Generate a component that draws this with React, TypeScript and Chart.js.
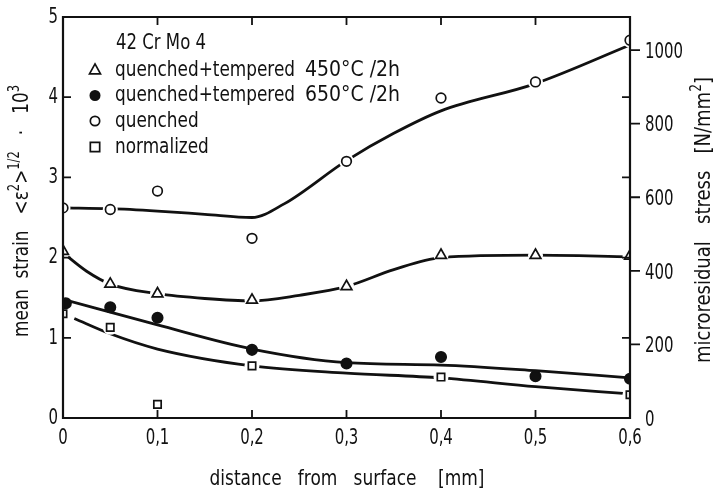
import React, { useEffect, useRef } from "react";
import { Chart, registerables } from "chart.js";

Chart.register(...registerables);

// ---- data ----
const X_TICKS = [0, 0.1, 0.2, 0.3, 0.4, 0.5, 0.6];
const Y_TICKS = [0, 1, 2, 3, 4, 5];
const Y2_TICKS = [0, 200, 400, 600, 800, 1000];

const Q450_X = [0, 0.05, 0.1, 0.2, 0.3, 0.4, 0.5, 0.6];
const Q450_Y = [2.08, 1.67, 1.55, 1.47, 1.64, 2.03, 2.03, 2.02];
const Q450_FIT_X = [0, 0.025, 0.05, 0.1, 0.15, 0.2, 0.25, 0.3, 0.35, 0.4, 0.5, 0.6];
const Q450_FIT_Y = [2.06, 1.83, 1.67, 1.55, 1.49, 1.46, 1.53, 1.64, 1.85, 2.0, 2.03, 2.01];

const Q650_X = [0.003, 0.05, 0.1, 0.2, 0.3, 0.4, 0.5, 0.6];
const Q650_Y = [1.43, 1.38, 1.25, 0.85, 0.68, 0.76, 0.52, 0.49];
const Q650_FIT_X = [0, 0.1, 0.2, 0.3, 0.4, 0.5, 0.6];
const Q650_FIT_Y = [1.48, 1.16, 0.86, 0.69, 0.66, 0.59, 0.5];

const QUENCHED_X = [0, 0.05, 0.1, 0.2, 0.3, 0.4, 0.5, 0.6];
const QUENCHED_Y = [2.62, 2.6, 2.83, 2.24, 3.2, 3.99, 4.19, 4.71];
const QUENCHED_FIT_X = [0, 0.05, 0.1, 0.15, 0.2, 0.234, 0.3, 0.35, 0.4, 0.5, 0.6];
const QUENCHED_FIT_Y = [2.62, 2.61, 2.58, 2.54, 2.5, 2.67, 3.21, 3.55, 3.83, 4.17, 4.65];

const NORM_X = [0, 0.05, 0.1, 0.2, 0.4, 0.6];
const NORM_Y = [1.3, 1.13, 0.17, 0.65, 0.51, 0.29];
const NORM_FIT_X = [0.012, 0.05, 0.1, 0.2, 0.3, 0.4, 0.5, 0.6];
const NORM_FIT_Y = [1.24, 1.05, 0.86, 0.65, 0.56, 0.5, 0.39, 0.3];

const ALLOY = "42 Cr Mo 4";
const LEGEND_NAMES = ["quenched+tempered", "quenched+tempered", "quenched", "normalized"];
const LEGEND_TREAT = ["450°C /2h", "650°C /2h", "", ""];
const X_TITLE = "distance   from   surface    [mm]";

const FONT = "'Liberation Sans Narrow', 'DejaVu Sans Condensed', 'Arial Narrow', 'DejaVu Sans', sans-serif";
const INK = "#111";

const pts = (xs: number[], ys: number[]) => xs.map((x, i) => ({ x, y: ys[i] }));
const fmt = (v: number) => (v === 0 ? "0" : v.toFixed(1).replace(".", ","));

function drawMarker(ctx: CanvasRenderingContext2D, kind: string, x: number, y: number, r: number) {
  ctx.save();
  ctx.lineWidth = 1.7;
  ctx.strokeStyle = INK;
  ctx.fillStyle = kind === "filled" ? INK : "#fff";
  ctx.beginPath();
  if (kind === "triangle") {
    ctx.moveTo(x, y - r * 1.1);
    ctx.lineTo(x + r, y + r * 0.7);
    ctx.lineTo(x - r, y + r * 0.7);
    ctx.closePath();
  } else if (kind === "square") {
    ctx.rect(x - r * 0.85, y - r * 0.85, r * 1.7, r * 1.7);
  } else {
    ctx.arc(x, y, r * 0.85, 0, Math.PI * 2);
  }
  ctx.fill();
  ctx.stroke();
  ctx.restore();
}

function scaleFor(ctx: CanvasRenderingContext2D, sample: string, size: number, target: number) {
  ctx.save();
  ctx.font = `${size}px ${FONT}`;
  const w = ctx.measureText(sample).width;
  ctx.restore();
  return w > 0 ? target / w : 1;
}

function drawText(
  ctx: CanvasRenderingContext2D,
  text: string,
  x: number,
  y: number,
  size: number,
  align: CanvasTextAlign,
  sx: number
) {
  ctx.save();
  ctx.font = `${size}px ${FONT}`;
  ctx.fillStyle = INK;
  ctx.translate(x, y);
  ctx.scale(sx, 1);
  ctx.textAlign = align;
  ctx.textBaseline = "middle";
  ctx.fillText(text, 0, 0);
  ctx.restore();
}

type Part = { t: string; sup?: boolean };
function drawRich(ctx: CanvasRenderingContext2D, parts: Part[], cx: number, cy: number, size: number, targetLen: number) {
  ctx.save();
  ctx.translate(cx, cy);
  ctx.rotate(-Math.PI / 2);
  const supSize = Math.round(size * 0.68);
  let total = 0;
  for (const p of parts) {
    ctx.font = `${p.sup ? supSize : size}px ${FONT}`;
    total += ctx.measureText(p.t).width;
  }
  const sx = targetLen / total;
  ctx.scale(sx, 1);
  let x = -total / 2;
  ctx.textBaseline = "alphabetic";
  ctx.textAlign = "left";
  ctx.fillStyle = INK;
  const base = size * 0.36;
  for (const p of parts) {
    ctx.font = `${p.sup ? supSize : size}px ${FONT}`;
    ctx.fillText(p.t, x, p.sup ? base - size * 0.42 : base);
    x += ctx.measureText(p.t).width;
  }
  ctx.restore();
}

const framePlugin = {
  id: "frame",
  afterDatasetsDraw(chart: any) {
    const ctx: CanvasRenderingContext2D = chart.ctx;
    const { left, right, top, bottom } = chart.chartArea;
    const xs = chart.scales.x;
    const ys = chart.scales.y;
    const y2 = chart.scales.y2;
    ctx.save();
    ctx.strokeStyle = INK;
    ctx.lineWidth = 2.2;
    ctx.beginPath();
    ctx.moveTo(left, top);
    ctx.lineTo(right, top);
    ctx.lineTo(right, bottom);
    ctx.lineTo(left, bottom);
    ctx.closePath();
    ctx.stroke();
    ctx.lineWidth = 1.8;
    ctx.beginPath();
    for (const v of X_TICKS) {
      const px = xs.getPixelForValue(v);
      if (v > 0 && v < 0.6) {
        ctx.moveTo(px, bottom);
        ctx.lineTo(px, bottom - 8);
        ctx.moveTo(px, top);
        ctx.lineTo(px, top + 8);
      }
    }
    for (const v of Y_TICKS) {
      const py = ys.getPixelForValue(v);
      if (v > 0 && v < 5) {
        ctx.moveTo(left, py);
        ctx.lineTo(left + 8, py);
        ctx.moveTo(right, py);
        ctx.lineTo(right - 8, py);
      }
    }
    for (const v of Y2_TICKS) {
      const py = y2.getPixelForValue(v);
      if (v > 0) {
        ctx.moveTo(right, py);
        ctx.lineTo(right + 10, py);
      }
    }
    ctx.stroke();
    ctx.restore();

    // tick labels, placed through the scales
    const sxd = scaleFor(ctx, "1000", 22, 38);
    X_TICKS.forEach((v) => drawText(ctx, fmt(v), xs.getPixelForValue(v), bottom + 20, 22, "center", sxd));
    Y_TICKS.forEach((v) => drawText(ctx, String(v), left - 5, ys.getPixelForValue(v), 22, "right", sxd));
    Y2_TICKS.forEach((v) => drawText(ctx, String(v), right + 15, y2.getPixelForValue(v) + 2, 22, "left", sxd));
  },
  afterDraw(chart: any) {
    const ctx: CanvasRenderingContext2D = chart.ctx;
    const sxl = scaleFor(ctx, "quenched+tempered", 22, 180);
    drawText(ctx, ALLOY, 116, 43, 22, "left", scaleFor(ctx, ALLOY, 22, 90));
    const kinds = ["triangle", "filled", "circle", "square"];
    const rows = [70, 95.5, 121, 147];
    LEGEND_NAMES.forEach((lab, i) => {
      drawMarker(ctx, kinds[i], 95, rows[i], 5.5);
      drawText(ctx, lab, 115, rows[i], 22, "left", sxl);
      if (LEGEND_TREAT[i]) drawText(ctx, LEGEND_TREAT[i], 305, rows[i], 22, "left", scaleFor(ctx, LEGEND_TREAT[i], 22, 95));
    });
    drawText(ctx, X_TITLE, 347, 479, 22, "center", scaleFor(ctx, X_TITLE, 22, 275));
    drawRich(
      ctx,
      [{ t: "mean  strain   <ε" }, { t: "2", sup: true }, { t: ">" }, { t: "1/2", sup: true }, { t: "   ·   10" }, { t: "3", sup: true }],
      20,
      211,
      22,
      252
    );
    drawRich(ctx, [{ t: "microresidual   stress   [N/mm" }, { t: "2", sup: true }, { t: "]" }], 702, 220, 22, 286);
  },
};

export default function App() {
  const ref = useRef<HTMLCanvasElement | null>(null);
  useEffect(() => {
    if (!ref.current) return;
    const lineDs = (xs: number[], ys: number[]) => ({
      type: "line" as const,
      data: pts(xs, ys),
      showLine: true,
      borderColor: INK,
      borderWidth: 2.8,
      pointRadius: 0,
      fill: false,
      cubicInterpolationMode: "monotone" as const,
      order: 2,
    });
    const haloDs = (xs: number[], ys: number[]) => ({
      type: "scatter" as const,
      data: pts(xs, ys),
      showLine: false,
      pointRadius: 7.5,
      pointStyle: "circle",
      backgroundColor: "#fff",
      borderColor: "#fff",
      borderWidth: 0,
      order: 1,
    });
    const markDs = (xs: number[], ys: number[], style: string, filled: boolean, r: number) => ({
      type: "scatter" as const,
      data: pts(xs, ys),
      showLine: false,
      pointStyle: style,
      pointRadius: r,
      backgroundColor: filled ? INK : "#fff",
      borderColor: INK,
      borderWidth: 1.7,
      order: 0,
    });
    const noTicks = { display: false };
    const chart = new Chart(ref.current, {
      type: "scatter",
      data: {
        datasets: [
          lineDs(Q450_FIT_X, Q450_FIT_Y),
          lineDs(Q650_FIT_X, Q650_FIT_Y),
          lineDs(QUENCHED_FIT_X, QUENCHED_FIT_Y),
          lineDs(NORM_FIT_X, NORM_FIT_Y),
          haloDs(Q450_X, Q450_Y),
          haloDs(QUENCHED_X, QUENCHED_Y),
          haloDs(NORM_X, NORM_Y),
          markDs(Q450_X, Q450_Y, "triangle", false, 6.2),
          markDs(Q650_X, Q650_Y, "circle", true, 5.2),
          markDs(QUENCHED_X, QUENCHED_Y, "circle", false, 4.8),
          markDs(NORM_X, NORM_Y, "rect", false, 5.2),
        ] as any,
      },
      options: {
        responsive: false,
        animation: false,
        events: [],
        layout: { padding: { top: 17, left: 0, right: 0, bottom: 0 } },
        plugins: { legend: { display: false }, tooltip: { enabled: false }, title: { display: false } },
        scales: {
          x: {
            type: "linear",
            position: "bottom",
            min: 0,
            max: 0.6,
            grid: { display: false, drawTicks: false },
            border: { display: false },
            afterBuildTicks: (s: any) => {
              s.ticks = X_TICKS.map((v) => ({ value: v }));
            },
            afterFit: (s: any) => {
              s.height = 77;
            },
            ticks: noTicks,
          },
          y: {
            type: "linear",
            position: "left",
            min: 0,
            max: 5,
            grid: { display: false, drawTicks: false },
            border: { display: false },
            afterBuildTicks: (s: any) => {
              s.ticks = Y_TICKS.map((v) => ({ value: v }));
            },
            afterFit: (s: any) => {
              s.width = 63;
            },
            ticks: noTicks,
          },
          y2: {
            type: "linear",
            position: "right",
            min: 0,
            max: 1090,
            grid: { display: false, drawTicks: false },
            border: { display: false },
            afterBuildTicks: (s: any) => {
              s.ticks = Y2_TICKS.map((v) => ({ value: v }));
            },
            afterFit: (s: any) => {
              s.width = 87;
            },
            ticks: noTicks,
          },
        },
      } as any,
      plugins: [framePlugin],
    });
    return () => chart.destroy();
  }, []);
  return (
    <div style={{ position: "absolute", left: 0, top: 0, width: 717, height: 495, background: "#fff" }}>
      <canvas ref={ref} width={717} height={495} style={{ display: "block", width: 717, height: 495 }} />
    </div>
  );
}
